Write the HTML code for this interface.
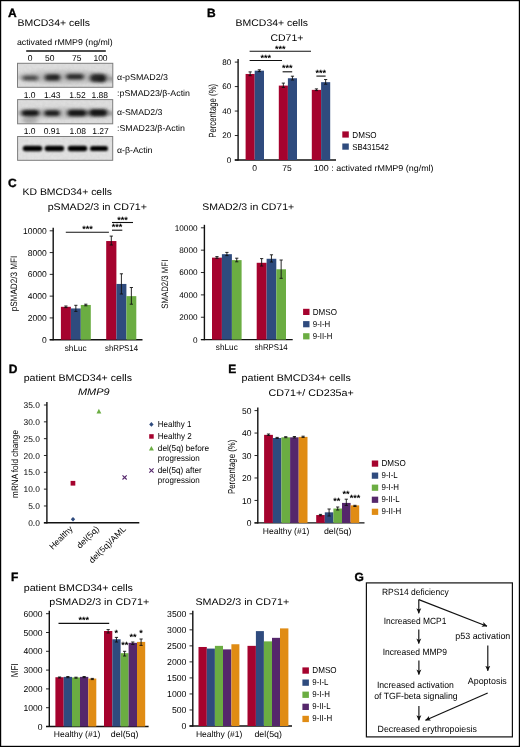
<!DOCTYPE html>
<html><head><meta charset="utf-8"><title>Figure</title>
<style>
html,body{margin:0;padding:0;background:#fff;}
body{width:520px;height:747px;overflow:hidden;font-family:"Liberation Sans",sans-serif;}
svg{display:block;font-family:"Liberation Sans",sans-serif;will-change:transform;}
text{fill:#000;text-rendering:geometricPrecision;}
</style></head><body>
<svg width="520" height="747" viewBox="0 0 520 747">
<defs>
<filter id="b1" x="-30%" y="-80%" width="160%" height="260%"><feGaussianBlur stdDeviation="1.9 1.35"/></filter>
<filter id="b2" x="-30%" y="-80%" width="160%" height="260%"><feGaussianBlur stdDeviation="1.3 0.9"/></filter>
<filter id="nz" x="0" y="0" width="100%" height="100%"><feTurbulence type="fractalNoise" baseFrequency="0.35" numOctaves="2" seed="3" result="n"/><feColorMatrix in="n" type="matrix" values="0 0 0 0 0.5  0 0 0 0 0.5  0 0 0 0 0.5  0 0 0 0.9 -0.25"/><feComposite operator="in" in2="SourceGraphic"/></filter>
<marker id="ah" viewBox="0 0 10 10" refX="9.2" refY="5" markerWidth="5.6" markerHeight="5.6" markerUnits="userSpaceOnUse" orient="auto"><path d="M0.3,0.6 L10,5 L0.3,9.4 L2.6,5 Z" fill="#111"/></marker>
<clipPath id="c1"><rect x="17.5" y="63.3" width="95.3" height="24"/></clipPath>
<clipPath id="c2"><rect x="17.6" y="99.6" width="95.1" height="24.2"/></clipPath>
<clipPath id="c3"><rect x="17.6" y="136.5" width="95.1" height="23.8"/></clipPath>
</defs>
<rect x="0" y="0" width="520" height="747" fill="#fff"/>

<rect x="0.5" y="0.5" width="519" height="746" fill="none" stroke="#000" stroke-width="1.4"/>
<text x="8.00" y="17.00" font-size="12" font-weight="bold" stroke="#000" stroke-width="0.35">A</text>
<text x="17.50" y="26.00" font-size="9.6" textLength="72.50" lengthAdjust="spacingAndGlyphs">BMCD34+ cells</text>
<text x="16.90" y="45.00" font-size="8.5" textLength="95.80" lengthAdjust="spacingAndGlyphs">activated rMMP9 (ng/ml)</text>
<line x1="26.20" y1="51.00" x2="105.80" y2="51.00" stroke="#111" stroke-width="1.3"/>
<text x="30.00" y="60.80" font-size="8.5" text-anchor="middle">0</text>
<text x="49.80" y="60.80" font-size="8.5" text-anchor="middle">50</text>
<text x="76.80" y="60.80" font-size="8.5" text-anchor="middle">75</text>
<text x="100.50" y="60.80" font-size="8.5" text-anchor="middle">100</text>
<rect x="17.5" y="63.3" width="95.30" height="24.00" fill="#dedede"/>
<rect x="17.5" y="63.3" width="95.30" height="24.00" fill="#777" filter="url(#nz)" opacity="0.35"/>
<g clip-path="url(#c1)"><g filter="url(#b1)">
<rect x="22.15" y="75.30" width="16.5" height="5.4" rx="2.70" fill="#000" opacity="0.66"/>
<rect x="44.25" y="73.90" width="16.5" height="7.0" rx="3.50" fill="#000" opacity="0.86"/>
<ellipse cx="55.5" cy="76.2" rx="4.50" ry="2.00" fill="#000" opacity="0.5"/>
<rect x="65.75" y="73.80" width="18.5" height="6.0" rx="3.00" fill="#000" opacity="0.86"/>
<rect x="89.45" y="73.70" width="17.5" height="8.6" rx="4.30" fill="#000" opacity="0.88"/>
<ellipse cx="102" cy="79.5" rx="4.50" ry="3.00" fill="#000" opacity="0.7"/>
<ellipse cx="111.6" cy="79.5" rx="1.10" ry="3.00" fill="#000" opacity="0.75"/>
<ellipse cx="65" cy="77" rx="50.00" ry="7.00" fill="#666" opacity="0.22"/>
</g></g>
<rect x="17.5" y="63.3" width="95.30" height="24.00" fill="none" stroke="#7d7d7d" stroke-width="1"/>
<text x="29.60" y="97.70" font-size="8.5" text-anchor="middle">1.0</text>
<text x="52.30" y="97.70" font-size="8.5" text-anchor="middle">1.43</text>
<text x="77.50" y="97.70" font-size="8.5" text-anchor="middle">1.52</text>
<text x="99.80" y="97.70" font-size="8.5" text-anchor="middle">1.88</text>
<rect x="17.6" y="99.6" width="95.10" height="24.20" fill="#dedede"/>
<rect x="17.6" y="99.6" width="95.10" height="24.20" fill="#777" filter="url(#nz)" opacity="0.35"/>
<g clip-path="url(#c2)"><g filter="url(#b1)">
<rect x="21.15" y="109.75" width="18.5" height="6.5" rx="3.25" fill="#000" opacity="1"/>
<rect x="43.85" y="110.10" width="16.5" height="6.2" rx="3.10" fill="#000" opacity="0.95"/>
<rect x="67.00" y="109.50" width="20" height="7" rx="3.50" fill="#000" opacity="1"/>
<rect x="88.80" y="109.10" width="19" height="7.4" rx="3.70" fill="#000" opacity="1"/>
<ellipse cx="112.5" cy="113.5" rx="1.25" ry="2.50" fill="#111" opacity="0.7"/>
<ellipse cx="30" cy="120" rx="8.00" ry="4.00" fill="#555" opacity="0.35"/>
<ellipse cx="65" cy="113" rx="50.00" ry="6.00" fill="#666" opacity="0.2"/>
</g></g>
<rect x="17.6" y="99.6" width="95.10" height="24.20" fill="none" stroke="#7d7d7d" stroke-width="1"/>
<text x="29.60" y="133.50" font-size="8.5" text-anchor="middle">1.0</text>
<text x="52.00" y="133.50" font-size="8.5" text-anchor="middle">0.91</text>
<text x="77.80" y="133.50" font-size="8.5" text-anchor="middle">1.08</text>
<text x="100.50" y="133.50" font-size="8.5" text-anchor="middle">1.27</text>
<rect x="17.6" y="136.5" width="95.10" height="23.80" fill="#e2e2e2"/>
<rect x="17.6" y="136.5" width="95.10" height="23.80" fill="#777" filter="url(#nz)" opacity="0.35"/>
<g clip-path="url(#c3)"><g filter="url(#b2)">
<rect x="22.75" y="145.70" width="19.5" height="5.6" rx="2.80" fill="#000" opacity="1"/>
<rect x="44.65" y="145.70" width="19.5" height="5.6" rx="2.80" fill="#000" opacity="1"/>
<rect x="67.75" y="145.70" width="19.5" height="5.6" rx="2.80" fill="#000" opacity="1"/>
<rect x="90.00" y="145.90" width="18" height="5.2" rx="2.60" fill="#000" opacity="1"/>
</g></g>
<rect x="17.6" y="136.5" width="95.10" height="23.80" fill="none" stroke="#7d7d7d" stroke-width="1"/>
<text x="117.00" y="79.50" font-size="8.5" textLength="51.00" lengthAdjust="spacingAndGlyphs">α-pSMAD2/3</text>
<text x="117.00" y="95.60" font-size="8.5" textLength="73.00" lengthAdjust="spacingAndGlyphs">:pSMAD23/β-Actin</text>
<text x="117.00" y="114.50" font-size="8.5" textLength="45.50" lengthAdjust="spacingAndGlyphs">α-SMAD2/3</text>
<text x="117.00" y="131.40" font-size="8.5" textLength="68.00" lengthAdjust="spacingAndGlyphs">:SMAD23/β-Actin</text>
<text x="117.00" y="152.50" font-size="8.5" textLength="35.50" lengthAdjust="spacingAndGlyphs">α-β-Actin</text>
<text x="207.00" y="17.00" font-size="12" font-weight="bold" stroke="#000" stroke-width="0.35">B</text>
<text x="235.60" y="26.20" font-size="9.6" textLength="72.40" lengthAdjust="spacingAndGlyphs">BMCD34+ cells</text>
<text x="270.40" y="40.60" font-size="9.6" textLength="33.00" lengthAdjust="spacingAndGlyphs">CD71+</text>
<line x1="238.10" y1="59.10" x2="238.10" y2="160.60" stroke="#111" stroke-width="1.4"/>
<line x1="234.80" y1="160.00" x2="336.00" y2="160.00" stroke="#111" stroke-width="1.4"/>
<line x1="234.80" y1="160.00" x2="238.10" y2="160.00" stroke="#111" stroke-width="0.9"/>
<text x="231.20" y="162.92" font-size="8.1" text-anchor="end">0</text>
<line x1="234.80" y1="135.53" x2="238.10" y2="135.53" stroke="#111" stroke-width="0.9"/>
<text x="231.20" y="138.44" font-size="8.1" text-anchor="end">20</text>
<line x1="234.80" y1="111.05" x2="238.10" y2="111.05" stroke="#111" stroke-width="0.9"/>
<text x="231.20" y="113.97" font-size="8.1" text-anchor="end">40</text>
<line x1="234.80" y1="86.57" x2="238.10" y2="86.57" stroke="#111" stroke-width="0.9"/>
<text x="231.20" y="89.49" font-size="8.1" text-anchor="end">60</text>
<line x1="234.80" y1="62.10" x2="238.10" y2="62.10" stroke="#111" stroke-width="0.9"/>
<text x="231.20" y="65.02" font-size="8.1" text-anchor="end">80</text>
<text x="215.90" y="110.80" font-size="10.4" text-anchor="middle" textLength="54.00" lengthAdjust="spacingAndGlyphs" transform="rotate(-90 215.90 110.80)">Percentage (%)</text>
<rect x="245.60" y="73.97" width="9.10" height="86.03" fill="#a5032e"/>
<rect x="254.70" y="70.67" width="9.30" height="89.33" fill="#2f4b7e"/>
<line x1="250.15" y1="71.90" x2="250.15" y2="75.70" stroke="#111" stroke-width="0.9"/>
<line x1="248.55" y1="71.90" x2="251.75" y2="71.90" stroke="#111" stroke-width="0.9"/>
<line x1="248.55" y1="75.70" x2="251.75" y2="75.70" stroke="#111" stroke-width="0.9"/>
<line x1="259.35" y1="69.80" x2="259.35" y2="71.60" stroke="#111" stroke-width="0.9"/>
<line x1="257.75" y1="69.80" x2="260.95" y2="69.80" stroke="#111" stroke-width="0.9"/>
<line x1="257.75" y1="71.60" x2="260.95" y2="71.60" stroke="#111" stroke-width="0.9"/>
<rect x="278.80" y="85.60" width="9.10" height="74.40" fill="#a5032e"/>
<rect x="287.90" y="78.25" width="9.10" height="81.75" fill="#2f4b7e"/>
<line x1="283.35" y1="83.10" x2="283.35" y2="87.40" stroke="#111" stroke-width="0.9"/>
<line x1="281.75" y1="83.10" x2="284.95" y2="83.10" stroke="#111" stroke-width="0.9"/>
<line x1="281.75" y1="87.40" x2="284.95" y2="87.40" stroke="#111" stroke-width="0.9"/>
<line x1="292.45" y1="76.20" x2="292.45" y2="80.00" stroke="#111" stroke-width="0.9"/>
<line x1="290.85" y1="76.20" x2="294.05" y2="76.20" stroke="#111" stroke-width="0.9"/>
<line x1="290.85" y1="80.00" x2="294.05" y2="80.00" stroke="#111" stroke-width="0.9"/>
<rect x="311.80" y="89.88" width="9.30" height="70.12" fill="#a5032e"/>
<rect x="321.10" y="82.17" width="9.10" height="77.83" fill="#2f4b7e"/>
<line x1="316.45" y1="88.90" x2="316.45" y2="90.60" stroke="#111" stroke-width="0.9"/>
<line x1="314.85" y1="88.90" x2="318.05" y2="88.90" stroke="#111" stroke-width="0.9"/>
<line x1="314.85" y1="90.60" x2="318.05" y2="90.60" stroke="#111" stroke-width="0.9"/>
<line x1="325.65" y1="79.50" x2="325.65" y2="84.20" stroke="#111" stroke-width="0.9"/>
<line x1="324.05" y1="79.50" x2="327.25" y2="79.50" stroke="#111" stroke-width="0.9"/>
<line x1="324.05" y1="84.20" x2="327.25" y2="84.20" stroke="#111" stroke-width="0.9"/>
<line x1="249.60" y1="51.30" x2="311.00" y2="51.30" stroke="#111" stroke-width="1.1"/>
<text x="280.20" y="51.75" font-size="9.0" text-anchor="middle" textLength="10.60" lengthAdjust="spacingAndGlyphs" font-weight="bold">***</text>
<line x1="249.60" y1="60.50" x2="282.00" y2="60.50" stroke="#111" stroke-width="1.1"/>
<text x="265.80" y="61.05" font-size="9.0" text-anchor="middle" textLength="10.60" lengthAdjust="spacingAndGlyphs" font-weight="bold">***</text>
<line x1="282.60" y1="71.80" x2="292.20" y2="71.80" stroke="#111" stroke-width="1.1"/>
<text x="287.30" y="71.45" font-size="9.0" text-anchor="middle" textLength="10.60" lengthAdjust="spacingAndGlyphs" font-weight="bold">***</text>
<line x1="316.40" y1="76.10" x2="325.60" y2="76.10" stroke="#111" stroke-width="1.1"/>
<text x="320.80" y="75.65" font-size="9.0" text-anchor="middle" textLength="10.60" lengthAdjust="spacingAndGlyphs" font-weight="bold">***</text>
<text x="254.60" y="171.00" font-size="8.5" text-anchor="middle">0</text>
<text x="287.00" y="171.00" font-size="8.5" text-anchor="middle">75</text>
<text x="313.80" y="171.00" font-size="8.5" textLength="119.80" lengthAdjust="spacingAndGlyphs">100 : activated rMMP9 (ng/ml)</text>
<rect x="342.30" y="131.40" width="6.50" height="6.20" fill="#a5032e"/>
<rect x="342.30" y="143.50" width="6.50" height="6.20" fill="#2f4b7e"/>
<text x="352.30" y="137.60" font-size="8.6" textLength="24.30" lengthAdjust="spacingAndGlyphs">DMSO</text>
<text x="352.30" y="149.70" font-size="8.6" textLength="36.50" lengthAdjust="spacingAndGlyphs">SB431542</text>
<text x="8.00" y="186.80" font-size="12" font-weight="bold" stroke="#000" stroke-width="0.35">C</text>
<text x="22.50" y="194.90" font-size="9.6" textLength="89.50" lengthAdjust="spacingAndGlyphs">KD BMCD34+ cells</text>
<text x="47.70" y="209.70" font-size="9.6" textLength="99.30" lengthAdjust="spacingAndGlyphs">pSMAD2/3 in CD71+</text>
<line x1="53.20" y1="227.80" x2="53.20" y2="340.30" stroke="#111" stroke-width="1.4"/>
<line x1="49.70" y1="339.70" x2="142.50" y2="339.70" stroke="#111" stroke-width="1.4"/>
<line x1="49.70" y1="339.70" x2="53.20" y2="339.70" stroke="#111" stroke-width="0.9"/>
<text x="46.70" y="342.76" font-size="8.5" text-anchor="end">0</text>
<line x1="49.70" y1="317.92" x2="53.20" y2="317.92" stroke="#111" stroke-width="0.9"/>
<text x="46.70" y="320.98" font-size="8.5" text-anchor="end">2000</text>
<line x1="49.70" y1="296.14" x2="53.20" y2="296.14" stroke="#111" stroke-width="0.9"/>
<text x="46.70" y="299.20" font-size="8.5" text-anchor="end">4000</text>
<line x1="49.70" y1="274.36" x2="53.20" y2="274.36" stroke="#111" stroke-width="0.9"/>
<text x="46.70" y="277.42" font-size="8.5" text-anchor="end">6000</text>
<line x1="49.70" y1="252.58" x2="53.20" y2="252.58" stroke="#111" stroke-width="0.9"/>
<text x="46.70" y="255.64" font-size="8.5" text-anchor="end">8000</text>
<line x1="49.70" y1="230.80" x2="53.20" y2="230.80" stroke="#111" stroke-width="0.9"/>
<text x="46.70" y="233.86" font-size="8.5" text-anchor="end">10000</text>
<text x="17.10" y="283.50" font-size="9.3" text-anchor="middle" textLength="55.70" lengthAdjust="spacingAndGlyphs" transform="rotate(-90 17.10 283.50)">pSMAD2/3 MFI</text>
<rect x="60.90" y="306.81" width="10.00" height="32.89" fill="#a5032e"/>
<rect x="70.90" y="308.45" width="9.90" height="31.25" fill="#2f4b7e"/>
<rect x="80.80" y="304.96" width="10.00" height="34.74" fill="#6bad42"/>
<line x1="65.90" y1="306.00" x2="65.90" y2="307.60" stroke="#111" stroke-width="0.9"/>
<line x1="64.30" y1="306.00" x2="67.50" y2="306.00" stroke="#111" stroke-width="0.9"/>
<line x1="64.30" y1="307.60" x2="67.50" y2="307.60" stroke="#111" stroke-width="0.9"/>
<line x1="75.85" y1="305.30" x2="75.85" y2="311.40" stroke="#111" stroke-width="0.9"/>
<line x1="74.25" y1="305.30" x2="77.45" y2="305.30" stroke="#111" stroke-width="0.9"/>
<line x1="74.25" y1="311.40" x2="77.45" y2="311.40" stroke="#111" stroke-width="0.9"/>
<line x1="85.80" y1="304.20" x2="85.80" y2="305.80" stroke="#111" stroke-width="0.9"/>
<line x1="84.20" y1="304.20" x2="87.40" y2="304.20" stroke="#111" stroke-width="0.9"/>
<line x1="84.20" y1="305.80" x2="87.40" y2="305.80" stroke="#111" stroke-width="0.9"/>
<rect x="106.20" y="241.04" width="10.20" height="98.66" fill="#a5032e"/>
<rect x="116.40" y="283.94" width="10.00" height="55.76" fill="#2f4b7e"/>
<rect x="126.40" y="296.14" width="9.90" height="43.56" fill="#6bad42"/>
<line x1="111.30" y1="236.10" x2="111.30" y2="245.00" stroke="#111" stroke-width="0.9"/>
<line x1="109.70" y1="236.10" x2="112.90" y2="236.10" stroke="#111" stroke-width="0.9"/>
<line x1="109.70" y1="245.00" x2="112.90" y2="245.00" stroke="#111" stroke-width="0.9"/>
<line x1="121.40" y1="273.80" x2="121.40" y2="294.00" stroke="#111" stroke-width="0.9"/>
<line x1="119.80" y1="273.80" x2="123.00" y2="273.80" stroke="#111" stroke-width="0.9"/>
<line x1="119.80" y1="294.00" x2="123.00" y2="294.00" stroke="#111" stroke-width="0.9"/>
<line x1="131.35" y1="287.50" x2="131.35" y2="304.20" stroke="#111" stroke-width="0.9"/>
<line x1="129.75" y1="287.50" x2="132.95" y2="287.50" stroke="#111" stroke-width="0.9"/>
<line x1="129.75" y1="304.20" x2="132.95" y2="304.20" stroke="#111" stroke-width="0.9"/>
<line x1="65.80" y1="232.30" x2="108.90" y2="232.30" stroke="#111" stroke-width="1.1"/>
<text x="87.50" y="231.95" font-size="9.0" text-anchor="middle" textLength="10.60" lengthAdjust="spacingAndGlyphs" font-weight="bold">***</text>
<line x1="112.00" y1="230.20" x2="122.30" y2="230.20" stroke="#111" stroke-width="1.1"/>
<text x="117.00" y="230.45" font-size="9.0" text-anchor="middle" textLength="10.60" lengthAdjust="spacingAndGlyphs" font-weight="bold">***</text>
<line x1="112.00" y1="222.50" x2="133.00" y2="222.50" stroke="#111" stroke-width="1.1"/>
<text x="122.50" y="222.75" font-size="9.0" text-anchor="middle" textLength="10.60" lengthAdjust="spacingAndGlyphs" font-weight="bold">***</text>
<text x="75.70" y="350.50" font-size="8.5" text-anchor="middle" textLength="22.00" lengthAdjust="spacingAndGlyphs">shLuc</text>
<text x="121.50" y="350.50" font-size="8.5" text-anchor="middle" textLength="33.00" lengthAdjust="spacingAndGlyphs">shRPS14</text>
<text x="202.20" y="209.90" font-size="9.6" textLength="92.00" lengthAdjust="spacingAndGlyphs">SMAD2/3 in CD71+</text>
<line x1="204.40" y1="224.80" x2="204.40" y2="340.20" stroke="#111" stroke-width="1.4"/>
<line x1="200.90" y1="339.60" x2="292.70" y2="339.60" stroke="#111" stroke-width="1.4"/>
<line x1="200.90" y1="339.60" x2="204.40" y2="339.60" stroke="#111" stroke-width="0.9"/>
<text x="197.50" y="342.55" font-size="8.2" text-anchor="end">0</text>
<line x1="200.90" y1="317.24" x2="204.40" y2="317.24" stroke="#111" stroke-width="0.9"/>
<text x="197.50" y="320.19" font-size="8.2" text-anchor="end">2000</text>
<line x1="200.90" y1="294.88" x2="204.40" y2="294.88" stroke="#111" stroke-width="0.9"/>
<text x="197.50" y="297.83" font-size="8.2" text-anchor="end">4000</text>
<line x1="200.90" y1="272.52" x2="204.40" y2="272.52" stroke="#111" stroke-width="0.9"/>
<text x="197.50" y="275.47" font-size="8.2" text-anchor="end">6000</text>
<line x1="200.90" y1="250.16" x2="204.40" y2="250.16" stroke="#111" stroke-width="0.9"/>
<text x="197.50" y="253.11" font-size="8.2" text-anchor="end">8000</text>
<line x1="200.90" y1="227.80" x2="204.40" y2="227.80" stroke="#111" stroke-width="0.9"/>
<text x="197.50" y="230.75" font-size="8.2" text-anchor="end">10000</text>
<text x="167.80" y="284.20" font-size="9.3" text-anchor="middle" textLength="49.00" lengthAdjust="spacingAndGlyphs" transform="rotate(-90 167.80 284.20)">SMAD2/3 MFI</text>
<rect x="212.00" y="257.65" width="9.90" height="81.95" fill="#a5032e"/>
<rect x="221.90" y="254.18" width="10.00" height="85.42" fill="#2f4b7e"/>
<rect x="231.90" y="260.11" width="9.70" height="79.49" fill="#6bad42"/>
<line x1="216.95" y1="256.60" x2="216.95" y2="258.30" stroke="#111" stroke-width="0.9"/>
<line x1="215.35" y1="256.60" x2="218.55" y2="256.60" stroke="#111" stroke-width="0.9"/>
<line x1="215.35" y1="258.30" x2="218.55" y2="258.30" stroke="#111" stroke-width="0.9"/>
<line x1="226.90" y1="252.40" x2="226.90" y2="255.60" stroke="#111" stroke-width="0.9"/>
<line x1="225.30" y1="252.40" x2="228.50" y2="252.40" stroke="#111" stroke-width="0.9"/>
<line x1="225.30" y1="255.60" x2="228.50" y2="255.60" stroke="#111" stroke-width="0.9"/>
<line x1="236.75" y1="258.20" x2="236.75" y2="261.80" stroke="#111" stroke-width="0.9"/>
<line x1="235.15" y1="258.20" x2="238.35" y2="258.20" stroke="#111" stroke-width="0.9"/>
<line x1="235.15" y1="261.80" x2="238.35" y2="261.80" stroke="#111" stroke-width="0.9"/>
<rect x="256.70" y="262.79" width="9.90" height="76.81" fill="#a5032e"/>
<rect x="266.60" y="258.77" width="9.70" height="80.83" fill="#2f4b7e"/>
<rect x="276.30" y="269.28" width="9.70" height="70.32" fill="#6bad42"/>
<line x1="261.65" y1="258.60" x2="261.65" y2="266.00" stroke="#111" stroke-width="0.9"/>
<line x1="260.05" y1="258.60" x2="263.25" y2="258.60" stroke="#111" stroke-width="0.9"/>
<line x1="260.05" y1="266.00" x2="263.25" y2="266.00" stroke="#111" stroke-width="0.9"/>
<line x1="271.45" y1="254.80" x2="271.45" y2="262.00" stroke="#111" stroke-width="0.9"/>
<line x1="269.85" y1="254.80" x2="273.05" y2="254.80" stroke="#111" stroke-width="0.9"/>
<line x1="269.85" y1="262.00" x2="273.05" y2="262.00" stroke="#111" stroke-width="0.9"/>
<line x1="281.15" y1="260.00" x2="281.15" y2="278.30" stroke="#111" stroke-width="0.9"/>
<line x1="279.55" y1="260.00" x2="282.75" y2="260.00" stroke="#111" stroke-width="0.9"/>
<line x1="279.55" y1="278.30" x2="282.75" y2="278.30" stroke="#111" stroke-width="0.9"/>
<text x="226.80" y="349.70" font-size="8.5" text-anchor="middle" textLength="22.00" lengthAdjust="spacingAndGlyphs">shLuc</text>
<text x="271.20" y="349.70" font-size="8.5" text-anchor="middle" textLength="33.00" lengthAdjust="spacingAndGlyphs">shRPS14</text>
<rect x="303.10" y="308.80" width="6.40" height="6.20" fill="#a5032e"/>
<text x="312.80" y="314.50" font-size="8.6" textLength="24.20" lengthAdjust="spacingAndGlyphs">DMSO</text>
<rect x="303.10" y="321.10" width="6.40" height="6.20" fill="#2f4b7e"/>
<text x="312.80" y="326.80" font-size="8.6" textLength="17.50" lengthAdjust="spacingAndGlyphs">9-I-H</text>
<rect x="303.10" y="333.20" width="6.40" height="6.20" fill="#6bad42"/>
<text x="312.80" y="338.90" font-size="8.6" textLength="19.50" lengthAdjust="spacingAndGlyphs">9-II-H</text>
<text x="8.70" y="373.00" font-size="12" font-weight="bold" stroke="#000" stroke-width="0.35">D</text>
<text x="23.70" y="381.00" font-size="9.6" textLength="108.30" lengthAdjust="spacingAndGlyphs">patient BMCD34+ cells</text>
<text x="77.90" y="395.20" font-size="9.6" textLength="31.70" lengthAdjust="spacingAndGlyphs" font-style="italic">MMP9</text>
<line x1="46.90" y1="402.00" x2="46.90" y2="523.40" stroke="#111" stroke-width="1.4"/>
<line x1="43.90" y1="522.80" x2="139.30" y2="522.80" stroke="#111" stroke-width="1.4"/>
<line x1="43.90" y1="522.80" x2="46.90" y2="522.80" stroke="#111" stroke-width="0.9"/>
<text x="39.80" y="525.82" font-size="8.4" text-anchor="end">0.0</text>
<line x1="43.90" y1="505.97" x2="46.90" y2="505.97" stroke="#111" stroke-width="0.9"/>
<text x="39.80" y="509.00" font-size="8.4" text-anchor="end">5.0</text>
<line x1="43.90" y1="489.14" x2="46.90" y2="489.14" stroke="#111" stroke-width="0.9"/>
<text x="39.80" y="492.17" font-size="8.4" text-anchor="end">10.0</text>
<line x1="43.90" y1="472.31" x2="46.90" y2="472.31" stroke="#111" stroke-width="0.9"/>
<text x="39.80" y="475.34" font-size="8.4" text-anchor="end">15.0</text>
<line x1="43.90" y1="455.49" x2="46.90" y2="455.49" stroke="#111" stroke-width="0.9"/>
<text x="39.80" y="458.51" font-size="8.4" text-anchor="end">20.0</text>
<line x1="43.90" y1="438.66" x2="46.90" y2="438.66" stroke="#111" stroke-width="0.9"/>
<text x="39.80" y="441.68" font-size="8.4" text-anchor="end">25.0</text>
<line x1="43.90" y1="421.83" x2="46.90" y2="421.83" stroke="#111" stroke-width="0.9"/>
<text x="39.80" y="424.85" font-size="8.4" text-anchor="end">30.0</text>
<line x1="43.90" y1="405.00" x2="46.90" y2="405.00" stroke="#111" stroke-width="0.9"/>
<text x="39.80" y="408.02" font-size="8.4" text-anchor="end">35.0</text>
<text x="17.70" y="464.00" font-size="9.2" text-anchor="middle" textLength="67.80" lengthAdjust="spacingAndGlyphs" transform="rotate(-90 17.70 464.00)">mRNA fold change</text>
<path d="M73,516.9 L75.2,519.2 L73,521.5 L70.8,519.2 Z" fill="#2f4b7e"/>
<rect x="70.60" y="480.90" width="4.70" height="4.70" fill="#a5032e"/>
<path d="M98.9,408.8 L101.3,413.4 L96.5,413.4 Z" fill="#6bad42"/>
<path d="M122.5,475.3 L126.7,479.5 M126.7,475.3 L122.5,479.5" stroke="#55276b" stroke-width="1.1" fill="none"/>
<text x="73.20" y="529.50" font-size="8.5" text-anchor="end" textLength="29.00" lengthAdjust="spacingAndGlyphs" transform="rotate(-45 73.20 529.50)">Healthy</text>
<text x="99.50" y="529.50" font-size="8.5" text-anchor="end" textLength="27.50" lengthAdjust="spacingAndGlyphs" transform="rotate(-45 99.50 529.50)">del(5q)</text>
<text x="126.50" y="529.50" font-size="8.5" text-anchor="end" textLength="48.50" lengthAdjust="spacingAndGlyphs" transform="rotate(-45 126.50 529.50)">del(5q)/AML</text>
<path d="M151.4,422.1 L153.6,424.4 L151.4,426.7 L149.2,424.4 Z" fill="#2f4b7e"/>
<rect x="149.20" y="434.20" width="4.50" height="4.50" fill="#a5032e"/>
<path d="M151.4,445.9 L153.9,450.5 L148.9,450.5 Z" fill="#6bad42"/>
<path d="M149.3,468.3 L153.6,472.6 M153.6,468.3 L149.3,472.6" stroke="#55276b" stroke-width="1.1" fill="none"/>
<text x="157.80" y="427.10" font-size="8.6" textLength="33.60" lengthAdjust="spacingAndGlyphs">Healthy 1</text>
<text x="157.80" y="439.20" font-size="8.6" textLength="34.00" lengthAdjust="spacingAndGlyphs">Healthy 2</text>
<text x="157.80" y="451.40" font-size="8.6" textLength="51.40" lengthAdjust="spacingAndGlyphs">del(5q) before</text>
<text x="157.80" y="460.60" font-size="8.6" textLength="42.00" lengthAdjust="spacingAndGlyphs">progression</text>
<text x="157.80" y="472.90" font-size="8.6" textLength="44.00" lengthAdjust="spacingAndGlyphs">del(5q) after</text>
<text x="157.80" y="482.60" font-size="8.6" textLength="42.00" lengthAdjust="spacingAndGlyphs">progression</text>
<text x="228.20" y="373.00" font-size="12" font-weight="bold" stroke="#000" stroke-width="0.35">E</text>
<text x="241.50" y="380.90" font-size="9.6" textLength="109.30" lengthAdjust="spacingAndGlyphs">patient BMCD34+ cells</text>
<text x="268.60" y="395.50" font-size="9.6" textLength="85.20" lengthAdjust="spacingAndGlyphs">CD71+/ CD235a+</text>
<line x1="257.80" y1="407.60" x2="257.80" y2="523.50" stroke="#111" stroke-width="1.4"/>
<line x1="254.50" y1="522.90" x2="364.50" y2="522.90" stroke="#111" stroke-width="1.4"/>
<line x1="254.50" y1="522.90" x2="257.80" y2="522.90" stroke="#111" stroke-width="0.9"/>
<text x="251.40" y="525.96" font-size="8.5" text-anchor="end">0</text>
<line x1="254.50" y1="500.44" x2="257.80" y2="500.44" stroke="#111" stroke-width="0.9"/>
<text x="251.40" y="503.50" font-size="8.5" text-anchor="end">10</text>
<line x1="254.50" y1="477.98" x2="257.80" y2="477.98" stroke="#111" stroke-width="0.9"/>
<text x="251.40" y="481.04" font-size="8.5" text-anchor="end">20</text>
<line x1="254.50" y1="455.52" x2="257.80" y2="455.52" stroke="#111" stroke-width="0.9"/>
<text x="251.40" y="458.58" font-size="8.5" text-anchor="end">30</text>
<line x1="254.50" y1="433.06" x2="257.80" y2="433.06" stroke="#111" stroke-width="0.9"/>
<text x="251.40" y="436.12" font-size="8.5" text-anchor="end">40</text>
<line x1="254.50" y1="410.60" x2="257.80" y2="410.60" stroke="#111" stroke-width="0.9"/>
<text x="251.40" y="413.66" font-size="8.5" text-anchor="end">50</text>
<text x="234.80" y="466.80" font-size="10" text-anchor="middle" textLength="54.30" lengthAdjust="spacingAndGlyphs" transform="rotate(-90 234.80 466.80)">Percentage (%)</text>
<rect x="264.10" y="434.86" width="8.80" height="88.04" fill="#a5032e"/>
<rect x="272.90" y="438.00" width="8.50" height="84.90" fill="#2f4b7e"/>
<rect x="281.40" y="437.33" width="8.70" height="85.57" fill="#6bad42"/>
<rect x="290.10" y="437.33" width="8.60" height="85.57" fill="#55276b"/>
<rect x="298.70" y="436.88" width="8.80" height="86.02" fill="#e08c14"/>
<line x1="268.50" y1="434.00" x2="268.50" y2="435.40" stroke="#111" stroke-width="0.9"/>
<line x1="266.90" y1="434.00" x2="270.10" y2="434.00" stroke="#111" stroke-width="0.9"/>
<line x1="266.90" y1="435.40" x2="270.10" y2="435.40" stroke="#111" stroke-width="0.9"/>
<line x1="277.15" y1="437.40" x2="277.15" y2="438.40" stroke="#111" stroke-width="0.9"/>
<line x1="275.55" y1="437.40" x2="278.75" y2="437.40" stroke="#111" stroke-width="0.9"/>
<line x1="275.55" y1="438.40" x2="278.75" y2="438.40" stroke="#111" stroke-width="0.9"/>
<line x1="285.75" y1="436.70" x2="285.75" y2="437.70" stroke="#111" stroke-width="0.9"/>
<line x1="284.15" y1="436.70" x2="287.35" y2="436.70" stroke="#111" stroke-width="0.9"/>
<line x1="284.15" y1="437.70" x2="287.35" y2="437.70" stroke="#111" stroke-width="0.9"/>
<line x1="294.40" y1="436.50" x2="294.40" y2="437.90" stroke="#111" stroke-width="0.9"/>
<line x1="292.80" y1="436.50" x2="296.00" y2="436.50" stroke="#111" stroke-width="0.9"/>
<line x1="292.80" y1="437.90" x2="296.00" y2="437.90" stroke="#111" stroke-width="0.9"/>
<line x1="303.10" y1="436.20" x2="303.10" y2="437.40" stroke="#111" stroke-width="0.9"/>
<line x1="301.50" y1="436.20" x2="304.70" y2="436.20" stroke="#111" stroke-width="0.9"/>
<line x1="301.50" y1="437.40" x2="304.70" y2="437.40" stroke="#111" stroke-width="0.9"/>
<rect x="316.20" y="515.04" width="8.60" height="7.86" fill="#a5032e"/>
<rect x="324.80" y="512.34" width="8.60" height="10.56" fill="#2f4b7e"/>
<rect x="333.40" y="508.53" width="8.60" height="14.37" fill="#6bad42"/>
<rect x="342.00" y="502.91" width="8.60" height="19.99" fill="#55276b"/>
<rect x="350.60" y="505.38" width="8.60" height="17.52" fill="#e08c14"/>
<line x1="320.50" y1="514.40" x2="320.50" y2="515.80" stroke="#111" stroke-width="0.9"/>
<line x1="318.90" y1="514.40" x2="322.10" y2="514.40" stroke="#111" stroke-width="0.9"/>
<line x1="318.90" y1="515.80" x2="322.10" y2="515.80" stroke="#111" stroke-width="0.9"/>
<line x1="329.10" y1="509.00" x2="329.10" y2="516.00" stroke="#111" stroke-width="0.9"/>
<line x1="327.50" y1="509.00" x2="330.70" y2="509.00" stroke="#111" stroke-width="0.9"/>
<line x1="327.50" y1="516.00" x2="330.70" y2="516.00" stroke="#111" stroke-width="0.9"/>
<line x1="337.70" y1="507.00" x2="337.70" y2="510.00" stroke="#111" stroke-width="0.9"/>
<line x1="336.10" y1="507.00" x2="339.30" y2="507.00" stroke="#111" stroke-width="0.9"/>
<line x1="336.10" y1="510.00" x2="339.30" y2="510.00" stroke="#111" stroke-width="0.9"/>
<line x1="346.30" y1="499.20" x2="346.30" y2="505.40" stroke="#111" stroke-width="0.9"/>
<line x1="344.70" y1="499.20" x2="347.90" y2="499.20" stroke="#111" stroke-width="0.9"/>
<line x1="344.70" y1="505.40" x2="347.90" y2="505.40" stroke="#111" stroke-width="0.9"/>
<line x1="354.90" y1="505.30" x2="354.90" y2="506.50" stroke="#111" stroke-width="0.9"/>
<line x1="353.30" y1="505.30" x2="356.50" y2="505.30" stroke="#111" stroke-width="0.9"/>
<line x1="353.30" y1="506.50" x2="356.50" y2="506.50" stroke="#111" stroke-width="0.9"/>
<text x="336.70" y="504.05" font-size="9.0" text-anchor="middle" textLength="7.10" lengthAdjust="spacingAndGlyphs" font-weight="bold">**</text>
<text x="346.00" y="497.05" font-size="9.0" text-anchor="middle" textLength="7.10" lengthAdjust="spacingAndGlyphs" font-weight="bold">**</text>
<text x="355.00" y="501.25" font-size="9.0" text-anchor="middle" textLength="10.60" lengthAdjust="spacingAndGlyphs" font-weight="bold">***</text>
<text x="286.00" y="533.80" font-size="8.5" text-anchor="middle" textLength="46.50" lengthAdjust="spacingAndGlyphs">Healthy (#1)</text>
<text x="337.70" y="533.80" font-size="8.5" text-anchor="middle" textLength="27.50" lengthAdjust="spacingAndGlyphs">del(5q)</text>
<rect x="371.80" y="460.50" width="6.40" height="6.20" fill="#a5032e"/>
<text x="381.50" y="466.20" font-size="8.6" textLength="24.30" lengthAdjust="spacingAndGlyphs">DMSO</text>
<rect x="371.80" y="472.55" width="6.40" height="6.20" fill="#2f4b7e"/>
<text x="381.50" y="478.25" font-size="8.6" textLength="16.20" lengthAdjust="spacingAndGlyphs">9-I-L</text>
<rect x="371.80" y="484.60" width="6.40" height="6.20" fill="#6bad42"/>
<text x="381.50" y="490.30" font-size="8.6" textLength="17.60" lengthAdjust="spacingAndGlyphs">9-I-H</text>
<rect x="371.80" y="496.65" width="6.40" height="6.20" fill="#55276b"/>
<text x="381.50" y="502.35" font-size="8.6" textLength="18.20" lengthAdjust="spacingAndGlyphs">9-II-L</text>
<rect x="371.80" y="508.70" width="6.40" height="6.20" fill="#e08c14"/>
<text x="381.50" y="514.40" font-size="8.6" textLength="19.80" lengthAdjust="spacingAndGlyphs">9-II-H</text>
<text x="11.00" y="581.30" font-size="12" font-weight="bold" stroke="#000" stroke-width="0.35">F</text>
<text x="23.70" y="590.70" font-size="9.6" textLength="109.30" lengthAdjust="spacingAndGlyphs">patient BMCD34+ cells</text>
<text x="49.20" y="604.90" font-size="9.6" textLength="100.00" lengthAdjust="spacingAndGlyphs">pSMAD2/3 in CD71+</text>
<line x1="49.30" y1="610.70" x2="49.30" y2="727.10" stroke="#111" stroke-width="1.4"/>
<line x1="46.00" y1="726.50" x2="148.60" y2="726.50" stroke="#111" stroke-width="1.4"/>
<line x1="46.00" y1="726.50" x2="49.30" y2="726.50" stroke="#111" stroke-width="0.9"/>
<text x="42.50" y="729.60" font-size="8.6" text-anchor="end">0</text>
<line x1="46.00" y1="707.70" x2="49.30" y2="707.70" stroke="#111" stroke-width="0.9"/>
<text x="42.50" y="710.80" font-size="8.6" text-anchor="end">1000</text>
<line x1="46.00" y1="688.90" x2="49.30" y2="688.90" stroke="#111" stroke-width="0.9"/>
<text x="42.50" y="692.00" font-size="8.6" text-anchor="end">2000</text>
<line x1="46.00" y1="670.10" x2="49.30" y2="670.10" stroke="#111" stroke-width="0.9"/>
<text x="42.50" y="673.20" font-size="8.6" text-anchor="end">3000</text>
<line x1="46.00" y1="651.30" x2="49.30" y2="651.30" stroke="#111" stroke-width="0.9"/>
<text x="42.50" y="654.40" font-size="8.6" text-anchor="end">4000</text>
<line x1="46.00" y1="632.50" x2="49.30" y2="632.50" stroke="#111" stroke-width="0.9"/>
<text x="42.50" y="635.60" font-size="8.6" text-anchor="end">5000</text>
<line x1="46.00" y1="613.70" x2="49.30" y2="613.70" stroke="#111" stroke-width="0.9"/>
<text x="42.50" y="616.80" font-size="8.6" text-anchor="end">6000</text>
<text x="18.00" y="670.30" font-size="10" text-anchor="middle" textLength="14.00" lengthAdjust="spacingAndGlyphs" transform="rotate(-90 18.00 670.30)">MFI</text>
<rect x="55.40" y="677.24" width="8.30" height="49.26" fill="#a5032e"/>
<rect x="63.70" y="676.87" width="8.30" height="49.63" fill="#2f4b7e"/>
<rect x="72.00" y="677.43" width="8.00" height="49.07" fill="#6bad42"/>
<rect x="80.00" y="676.87" width="8.30" height="49.63" fill="#55276b"/>
<rect x="88.30" y="678.56" width="8.00" height="47.94" fill="#e08c14"/>
<line x1="59.55" y1="677.00" x2="59.55" y2="678.00" stroke="#111" stroke-width="0.9"/>
<line x1="57.95" y1="677.00" x2="61.15" y2="677.00" stroke="#111" stroke-width="0.9"/>
<line x1="57.95" y1="678.00" x2="61.15" y2="678.00" stroke="#111" stroke-width="0.9"/>
<line x1="67.85" y1="676.50" x2="67.85" y2="677.70" stroke="#111" stroke-width="0.9"/>
<line x1="66.25" y1="676.50" x2="69.45" y2="676.50" stroke="#111" stroke-width="0.9"/>
<line x1="66.25" y1="677.70" x2="69.45" y2="677.70" stroke="#111" stroke-width="0.9"/>
<line x1="76.00" y1="677.20" x2="76.00" y2="678.20" stroke="#111" stroke-width="0.9"/>
<line x1="74.40" y1="677.20" x2="77.60" y2="677.20" stroke="#111" stroke-width="0.9"/>
<line x1="74.40" y1="678.20" x2="77.60" y2="678.20" stroke="#111" stroke-width="0.9"/>
<line x1="84.15" y1="676.50" x2="84.15" y2="677.70" stroke="#111" stroke-width="0.9"/>
<line x1="82.55" y1="676.50" x2="85.75" y2="676.50" stroke="#111" stroke-width="0.9"/>
<line x1="82.55" y1="677.70" x2="85.75" y2="677.70" stroke="#111" stroke-width="0.9"/>
<line x1="92.30" y1="678.40" x2="92.30" y2="679.60" stroke="#111" stroke-width="0.9"/>
<line x1="90.70" y1="678.40" x2="93.90" y2="678.40" stroke="#111" stroke-width="0.9"/>
<line x1="90.70" y1="679.60" x2="93.90" y2="679.60" stroke="#111" stroke-width="0.9"/>
<rect x="104.00" y="631.00" width="8.30" height="95.50" fill="#a5032e"/>
<rect x="112.30" y="639.27" width="8.30" height="87.23" fill="#2f4b7e"/>
<rect x="120.60" y="653.18" width="8.00" height="73.32" fill="#6bad42"/>
<rect x="128.60" y="642.84" width="8.40" height="83.66" fill="#55276b"/>
<rect x="137.00" y="641.90" width="8.20" height="84.60" fill="#e08c14"/>
<line x1="108.15" y1="629.60" x2="108.15" y2="633.00" stroke="#111" stroke-width="0.9"/>
<line x1="106.55" y1="629.60" x2="109.75" y2="629.60" stroke="#111" stroke-width="0.9"/>
<line x1="106.55" y1="633.00" x2="109.75" y2="633.00" stroke="#111" stroke-width="0.9"/>
<line x1="116.45" y1="637.40" x2="116.45" y2="642.00" stroke="#111" stroke-width="0.9"/>
<line x1="114.85" y1="637.40" x2="118.05" y2="637.40" stroke="#111" stroke-width="0.9"/>
<line x1="114.85" y1="642.00" x2="118.05" y2="642.00" stroke="#111" stroke-width="0.9"/>
<line x1="124.60" y1="651.30" x2="124.60" y2="656.00" stroke="#111" stroke-width="0.9"/>
<line x1="123.00" y1="651.30" x2="126.20" y2="651.30" stroke="#111" stroke-width="0.9"/>
<line x1="123.00" y1="656.00" x2="126.20" y2="656.00" stroke="#111" stroke-width="0.9"/>
<line x1="132.80" y1="642.00" x2="132.80" y2="644.50" stroke="#111" stroke-width="0.9"/>
<line x1="131.20" y1="642.00" x2="134.40" y2="642.00" stroke="#111" stroke-width="0.9"/>
<line x1="131.20" y1="644.50" x2="134.40" y2="644.50" stroke="#111" stroke-width="0.9"/>
<line x1="141.10" y1="639.00" x2="141.10" y2="645.40" stroke="#111" stroke-width="0.9"/>
<line x1="139.50" y1="639.00" x2="142.70" y2="639.00" stroke="#111" stroke-width="0.9"/>
<line x1="139.50" y1="645.40" x2="142.70" y2="645.40" stroke="#111" stroke-width="0.9"/>
<line x1="58.50" y1="623.40" x2="109.20" y2="623.40" stroke="#111" stroke-width="1.1"/>
<text x="83.80" y="623.35" font-size="9.0" text-anchor="middle" textLength="10.60" lengthAdjust="spacingAndGlyphs" font-weight="bold">***</text>
<text x="116.30" y="636.05" font-size="9.0" text-anchor="middle" font-weight="bold">*</text>
<text x="124.80" y="648.45" font-size="9.0" text-anchor="middle" textLength="7.10" lengthAdjust="spacingAndGlyphs" font-weight="bold">**</text>
<text x="133.00" y="640.15" font-size="9.0" text-anchor="middle" textLength="7.10" lengthAdjust="spacingAndGlyphs" font-weight="bold">**</text>
<text x="141.00" y="636.05" font-size="9.0" text-anchor="middle" font-weight="bold">*</text>
<text x="77.00" y="737.00" font-size="8.5" text-anchor="middle" textLength="46.50" lengthAdjust="spacingAndGlyphs">Healthy (#1)</text>
<text x="124.60" y="737.00" font-size="8.5" text-anchor="middle" textLength="27.50" lengthAdjust="spacingAndGlyphs">del(5q)</text>
<text x="195.40" y="604.90" font-size="9.6" textLength="93.80" lengthAdjust="spacingAndGlyphs">SMAD2/3 in CD71+</text>
<line x1="192.80" y1="610.80" x2="192.80" y2="726.60" stroke="#111" stroke-width="1.4"/>
<line x1="189.50" y1="726.00" x2="292.00" y2="726.00" stroke="#111" stroke-width="1.4"/>
<line x1="189.50" y1="726.00" x2="192.80" y2="726.00" stroke="#111" stroke-width="0.9"/>
<text x="186.40" y="729.13" font-size="8.7" text-anchor="end">0</text>
<line x1="189.50" y1="709.97" x2="192.80" y2="709.97" stroke="#111" stroke-width="0.9"/>
<text x="186.40" y="713.10" font-size="8.7" text-anchor="end">500</text>
<line x1="189.50" y1="693.94" x2="192.80" y2="693.94" stroke="#111" stroke-width="0.9"/>
<text x="186.40" y="697.07" font-size="8.7" text-anchor="end">1000</text>
<line x1="189.50" y1="677.91" x2="192.80" y2="677.91" stroke="#111" stroke-width="0.9"/>
<text x="186.40" y="681.05" font-size="8.7" text-anchor="end">1500</text>
<line x1="189.50" y1="661.89" x2="192.80" y2="661.89" stroke="#111" stroke-width="0.9"/>
<text x="186.40" y="665.02" font-size="8.7" text-anchor="end">2000</text>
<line x1="189.50" y1="645.86" x2="192.80" y2="645.86" stroke="#111" stroke-width="0.9"/>
<text x="186.40" y="648.99" font-size="8.7" text-anchor="end">2500</text>
<line x1="189.50" y1="629.83" x2="192.80" y2="629.83" stroke="#111" stroke-width="0.9"/>
<text x="186.40" y="632.96" font-size="8.7" text-anchor="end">3000</text>
<line x1="189.50" y1="613.80" x2="192.80" y2="613.80" stroke="#111" stroke-width="0.9"/>
<text x="186.40" y="616.93" font-size="8.7" text-anchor="end">3500</text>
<rect x="198.50" y="646.98" width="8.30" height="79.02" fill="#a5032e"/>
<rect x="206.80" y="648.58" width="8.10" height="77.42" fill="#2f4b7e"/>
<rect x="214.90" y="645.86" width="8.10" height="80.14" fill="#6bad42"/>
<rect x="223.00" y="649.38" width="8.40" height="76.62" fill="#55276b"/>
<rect x="231.40" y="644.25" width="8.00" height="81.75" fill="#e08c14"/>
<rect x="247.50" y="645.86" width="8.40" height="80.14" fill="#a5032e"/>
<rect x="255.90" y="631.11" width="8.00" height="94.89" fill="#2f4b7e"/>
<rect x="263.90" y="641.37" width="8.10" height="84.63" fill="#6bad42"/>
<rect x="272.00" y="637.84" width="8.00" height="88.16" fill="#55276b"/>
<rect x="280.00" y="628.39" width="8.40" height="97.61" fill="#e08c14"/>
<text x="219.20" y="736.80" font-size="8.5" text-anchor="middle" textLength="46.50" lengthAdjust="spacingAndGlyphs">Healthy (#1)</text>
<text x="268.20" y="736.80" font-size="8.5" text-anchor="middle" textLength="27.50" lengthAdjust="spacingAndGlyphs">del(5q)</text>
<rect x="302.40" y="667.40" width="6.50" height="6.30" fill="#a5032e"/>
<text x="312.30" y="673.00" font-size="8.6" textLength="24.30" lengthAdjust="spacingAndGlyphs">DMSO</text>
<rect x="302.40" y="679.50" width="6.50" height="6.30" fill="#2f4b7e"/>
<text x="312.30" y="685.10" font-size="8.6" textLength="16.20" lengthAdjust="spacingAndGlyphs">9-I-L</text>
<rect x="302.40" y="691.60" width="6.50" height="6.30" fill="#6bad42"/>
<text x="312.30" y="697.20" font-size="8.6" textLength="17.60" lengthAdjust="spacingAndGlyphs">9-I-H</text>
<rect x="302.40" y="703.70" width="6.50" height="6.30" fill="#55276b"/>
<text x="312.30" y="709.30" font-size="8.6" textLength="18.20" lengthAdjust="spacingAndGlyphs">9-II-L</text>
<rect x="302.40" y="715.80" width="6.50" height="6.30" fill="#e08c14"/>
<text x="312.30" y="721.40" font-size="8.6" textLength="19.80" lengthAdjust="spacingAndGlyphs">9-II-H</text>
<text x="354.50" y="580.90" font-size="12" font-weight="bold" stroke="#000" stroke-width="0.35">G</text>
<rect x="366.4" y="582.9" width="146" height="154" fill="none" stroke="#111" stroke-width="1.2"/>
<text x="382.00" y="594.90" font-size="9.0" textLength="66.70" lengthAdjust="spacingAndGlyphs">RPS14 deficiency</text>
<text x="383.70" y="624.40" font-size="9.0" textLength="62.70" lengthAdjust="spacingAndGlyphs">Increased MCP1</text>
<text x="455.30" y="639.00" font-size="9.0" textLength="55.00" lengthAdjust="spacingAndGlyphs">p53 activation</text>
<text x="382.70" y="654.70" font-size="9.0" textLength="64.30" lengthAdjust="spacingAndGlyphs">Increased MMP9</text>
<text x="467.80" y="683.70" font-size="9.0" textLength="39.00" lengthAdjust="spacingAndGlyphs">Apoptosis</text>
<text x="376.90" y="688.40" font-size="9.0" textLength="77.00" lengthAdjust="spacingAndGlyphs">Increased activation</text>
<text x="374.20" y="698.60" font-size="9.0" textLength="83.40" lengthAdjust="spacingAndGlyphs">of TGF-beta signaling</text>
<text x="377.60" y="731.80" font-size="9.0" textLength="99.30" lengthAdjust="spacingAndGlyphs">Decreased erythropoiesis</text>
<line x1="418.8" y1="599.6" x2="418.8" y2="613.2" stroke="#111" stroke-width="1.15" marker-end="url(#ah)"/>
<line x1="418.8" y1="599.6" x2="487" y2="626.2" stroke="#111" stroke-width="1.15" marker-end="url(#ah)"/>
<line x1="418.8" y1="629.4" x2="418.8" y2="643.6" stroke="#111" stroke-width="1.15" marker-end="url(#ah)"/>
<line x1="418.9" y1="660.6" x2="418.9" y2="674.6" stroke="#111" stroke-width="1.15" marker-end="url(#ah)"/>
<line x1="487.8" y1="645.6" x2="487.8" y2="670.8" stroke="#111" stroke-width="1.15" marker-end="url(#ah)"/>
<line x1="418.9" y1="706" x2="418.9" y2="720.2" stroke="#111" stroke-width="1.15" marker-end="url(#ah)"/>
<line x1="487.7" y1="693" x2="425.5" y2="720.2" stroke="#111" stroke-width="1.15" marker-end="url(#ah)"/>
</svg>
</body></html>
